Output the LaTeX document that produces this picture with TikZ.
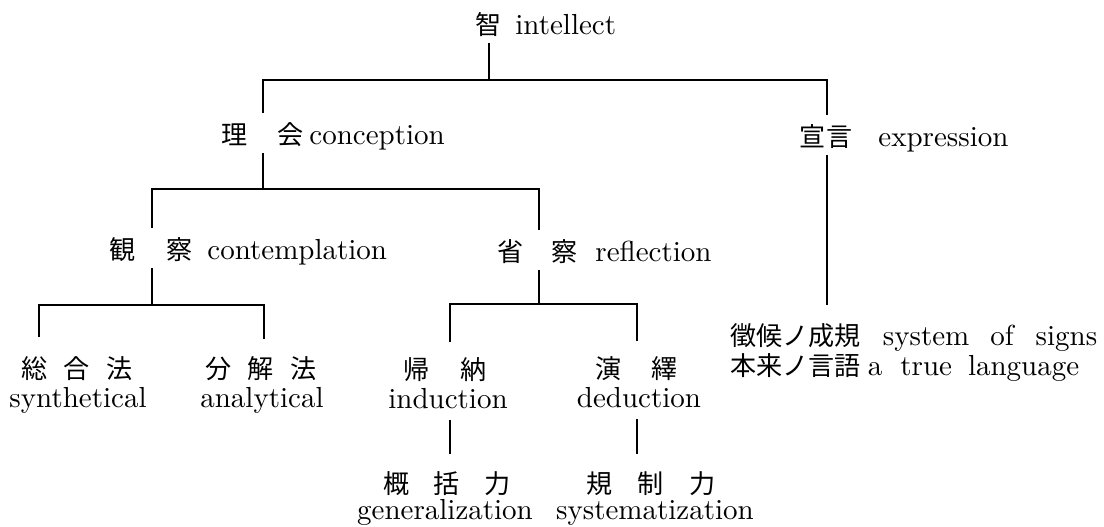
\documentclass[tikz,border=0pt]{standalone}
\usepackage{fontspec}
\setmainfont{lmroman10-regular.otf}
\newfontfamily\cjk{Noto Sans CJK JP}[Scale=0.9]
\begin{document}
\begin{tikzpicture}[x=0.5pt,y=-0.5pt,
  lab/.style={inner sep=0pt, text height=11pt, text depth=0pt, outer ysep=4.5pt,
    font=\fontsize{14.5pt}{18pt}\selectfont},
  kj/.style={lab, font=\fontsize{14.5pt}{18pt}\selectfont\cjk},
  branch/.style={line width=1.2pt, line join=miter}]
\useasboundingbox (0,0) rectangle (1104,526);

% labels
\node[kj] (n0k) at (489,23) {智};
\node[lab, anchor=west] (n0e) at (515,23) {intellect};

\node[kj] (n1k1) at (235,133) {理};
\node[kj] (n1k2) at (291,133) {会};
\node[lab, anchor=west] (n1e) at (309,133) {conception};

\node[kj] (n2k) at (826,135) {宣言};
\node[lab, anchor=west] (n2e) at (878,135) {expression};

\node[kj] (n3k1) at (123,248) {観};
\node[kj] (n3k2) at (180,248) {察};
\node[lab, anchor=west] (n3e) at (207,248) {contemplation};

\node[kj] (n4k1) at (511,250) {省};
\node[kj] (n4k2) at (565,250) {察};
\node[lab, anchor=west] (n4e) at (595,250) {reflection};

\node[kj] (n5k) at (77,367) {総\hspace{8pt}合\hspace{8pt}法};
\node[lab] (n5e) at (78,396) {synthetical};
\node[kj] (n6k) at (261,367) {分\hspace{8pt}解\hspace{8pt}法};
\node[lab] (n6e) at (262,396) {analytical};

\node[kj] (n7k) at (445,368) {帰\hspace{15.5pt}納};
\node[lab] (n7e) at (448,397) {induction};
\node[kj] (n8k) at (637,367) {演\hspace{15pt}繹};
\node[lab] (n8e) at (639,396) {deduction};

\node[kj] (n9k) at (447,482) {概\hspace{12pt}括\hspace{12pt}力};
\node[lab] (n9e) at (445,508) {generalization};
\node[kj] (n10k) at (651,482) {規\hspace{12.5pt}制\hspace{12.5pt}力};
\node[lab] (n10e) at (655,508) {systematization};

\node[lab, anchor=west] (r1) at (730,334) {{\cjk 徵候ノ成規}\hspace{11pt}system\hspace{10.5pt}of\hspace{11pt}signs};
\node[lab, anchor=west] (r2) at (730,364) {{\cjk 本来ノ言語}\hspace{3.5pt}a\hspace{9pt}true\hspace{8pt}language};

% junctions
\coordinate (a0) at (489,80);
\coordinate (a1) at (263,80);
\coordinate (a2) at (827,80);
\coordinate (b0) at (263,189);
\coordinate (b1) at (152,189);
\coordinate (b2) at (539,189);
\coordinate (c0) at (152,305);
\coordinate (c1) at (39,305);
\coordinate (c2) at (264,305);
\coordinate (d0) at (539,304);
\coordinate (d1) at (450,304);
\coordinate (d2) at (637,304);

% connectors
\draw[branch] (n0k.south) -- (a0);
\draw[branch] (n1k1.north -| a1) -- (a1) -- (a2) -- (n2k.north -| a2);
\draw[branch] (n1k1.south -| a1) -- (b0);
\draw[branch, shorten >=4.5pt] (n2k.south -| a2) -- (r1.north -| a2);
\draw[branch] (n3k1.north -| b1) -- (b1) -- (b2) -- (n4k1.north -| b2);
\draw[branch] (n3k1.south -| b1) -- (c0);
\draw[branch] (n4k1.south -| b2) -- (d0);
\draw[branch, shorten <=5pt, shorten >=4pt] (n5k.north -| c1) -- (c1) -- (c2) -- (n6k.north -| c2);
\draw[branch, shorten <=3pt, shorten >=3pt] (n7k.north -| d1) -- (d1) -- (d2) -- (n8k.north -| d2);
\draw[branch, shorten <=1.5pt, shorten >=4pt] (n7e.south -| d1) -- (n9k.north -| d1);
\draw[branch, shorten <=1.5pt, shorten >=4pt] (n8e.south -| d2) -- (n10k.north -| d2);
\end{tikzpicture}
\end{document}
